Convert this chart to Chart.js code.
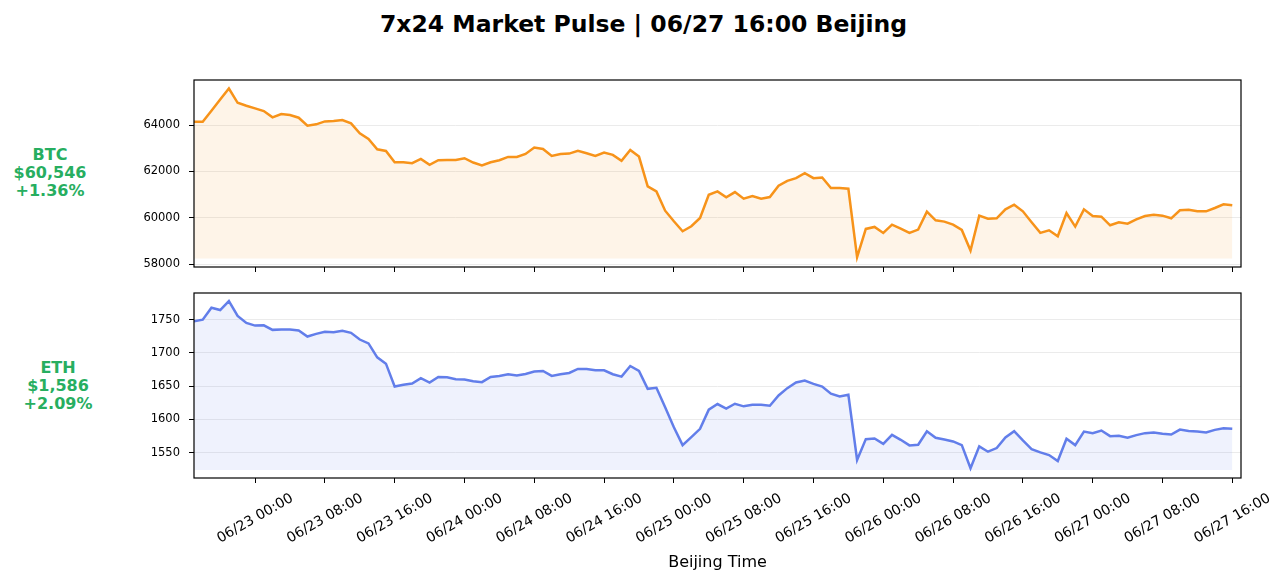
<!DOCTYPE html>
<html>
<head>
<meta charset="utf-8">
<title>7x24 Market Pulse</title>
<script src="https://cdn.jsdelivr.net/npm/chart.js@4.4.0/dist/chart.umd.min.js"></script>
<style>
  html, body { margin: 0; padding: 0; background: #fff; }
  body { width: 1287px; height: 583px; position: relative; overflow: hidden; font-family: 'DejaVu Sans', sans-serif; }
  #title { position: absolute; left: 0; top: 10px; width: 1287px; text-align: center; font-weight: bold; font-size: 23.5px; line-height: 28px; color: #000; }
  .coin { position: absolute; width: 120px; text-align: center; font-weight: bold; font-size: 16px; line-height: 17.8px; color: #27ae60; }
  canvas { position: absolute; left: 0; }
</style>
</head>
<body>
<div id="title">7x24 Market Pulse | 06/27 16:00 Beijing</div>
<div class="coin" id="btcInfo" style="left:-10px; top:146px"></div>
<div class="coin" id="ethInfo" style="left:-2px; top:359px"></div>
<canvas id="btcChart" width="1287" height="210" style="top:70px"></canvas>
<canvas id="ethChart" width="1287" height="300" style="top:283px"></canvas>
<script>
// hourly closes, 06/22 17:00 -> 06/27 16:00 (Beijing)
const btcPrices = [
  64143, 64143, 64614, 65100, 65572, 64957, 64829, 64715, 64600, 64329,
  64472, 64429, 64314, 63971, 64029, 64157, 64171, 64214, 64071, 63643,
  63400, 62957, 62886, 62400, 62400, 62357, 62543, 62286, 62486, 62500,
  62500, 62571, 62386, 62257, 62400, 62486, 62629, 62629, 62757, 63029,
  62971, 62671, 62757, 62771, 62886, 62786, 62671, 62814, 62714, 62457,
  62929, 62643, 61357, 61143, 60314, 59857, 59429, 59643, 60000, 61000,
  61143, 60886, 61114, 60829, 60943, 60829, 60900, 61386, 61600, 61714,
  61929, 61714, 61743, 61286, 61286, 61257, 58314, 59529, 59614, 59357,
  59714, 59543, 59357, 59500, 60271, 59900, 59843, 59714, 59486, 58600,
  60100, 59971, 59986, 60371, 60571, 60286, 59814, 59357, 59471, 59214,
  60214, 59629, 60371, 60086, 60057, 59686, 59814, 59757, 59943, 60086,
  60143, 60100, 59986, 60329, 60357, 60286, 60286, 60429, 60585, 60546
];
const ethPrices = [
  1747.5, 1750.0, 1767.9, 1764.4, 1777.9, 1755.5, 1745.0, 1741.0, 1741.5, 1734.6,
  1735.1, 1735.1, 1733.6, 1724.6, 1728.6, 1731.6, 1731.1, 1733.1, 1730.1, 1720.1,
  1714.2, 1693.3, 1683.8, 1649.5, 1652.0, 1654.0, 1661.9, 1655.5, 1663.9, 1663.4,
  1660.4, 1660.0, 1657.5, 1656.0, 1663.9, 1665.4, 1667.9, 1665.9, 1668.4, 1671.9,
  1672.9, 1665.4, 1667.9, 1669.9, 1675.9, 1675.9, 1673.9, 1673.9, 1667.9, 1664.4,
  1680.3, 1672.9, 1646.0, 1647.5, 1618.2, 1588.3, 1561.4, 1573.4, 1585.9, 1614.7,
  1623.1, 1616.2, 1623.6, 1619.7, 1622.1, 1622.1, 1620.6, 1636.1, 1647.0, 1655.5,
  1658.5, 1653.5, 1649.5, 1638.6, 1634.6, 1637.1, 1539.0, 1570.4, 1571.4, 1563.4,
  1576.9, 1569.4, 1561.0, 1562.0, 1582.3, 1572.4, 1569.9, 1566.9, 1561.4, 1526.6,
  1559.5, 1551.5, 1557.0, 1572.9, 1582.3, 1568.4, 1555.5, 1550.5, 1546.5, 1537.6,
  1570.9, 1561.4, 1581.8, 1579.4, 1583.3, 1574.9, 1575.4, 1572.4, 1576.4, 1579.4,
  1580.4, 1578.4, 1577.4, 1584.8, 1582.8, 1581.8, 1580.4, 1584.3, 1586.8, 1586.0
];

// x tick positions are hours after 06/22 17:00
const tickHours = [7, 15, 23, 31, 39, 47, 55, 63, 71, 79, 87, 95, 103, 111, 119];
const tickLabels = [
  '06/23 00:00', '06/23 08:00', '06/23 16:00', '06/24 00:00', '06/24 08:00',
  '06/24 16:00', '06/25 00:00', '06/25 08:00', '06/25 16:00', '06/26 00:00',
  '06/26 08:00', '06/26 16:00', '06/27 00:00', '06/27 08:00', '06/27 16:00'
];
const btcTicks = [58000, 60000, 62000, 64000];
const ethTicks = [1550, 1600, 1650, 1700, 1750];

const coinNames = ['BTC', 'ETH'];
const coinPrices = ['$60,546', '$1,586'];
const coinChanges = ['+1.36%', '+2.09%'];

Chart.defaults.font.family = "'DejaVu Sans', sans-serif";
Chart.defaults.color = '#000';

document.getElementById('btcInfo').innerHTML = [coinNames[0], coinPrices[0], coinChanges[0]].join('<br>');
document.getElementById('ethInfo').innerHTML = [coinNames[1], coinPrices[1], coinChanges[1]].join('<br>');

// black box round the plot area, like matplotlib spines
const framePlugin = {
  id: 'frame',
  afterDatasetsDraw(chart) {
    const a = chart.chartArea;
    const ctx = chart.ctx;
    ctx.save();
    ctx.strokeStyle = '#000';
    ctx.lineWidth = 1.2;
    ctx.strokeRect(a.left, a.top, a.right - a.left, a.bottom - a.top);
    ctx.restore();
  }
};

function makePanel(id, prices, base, yMin, yMax, yTicks, color, fill, showX) {
  const points = prices.map((v, i) => ({ x: i, y: v }));
  return new Chart(document.getElementById(id), {
    type: 'line',
    data: {
      datasets: [{
        data: points,
        borderColor: color,
        backgroundColor: fill,
        borderWidth: 2.5,
        pointRadius: 0,
        tension: 0,
        fill: { value: base }
      }]
    },
    options: {
      responsive: false,
      animation: false,
      layout: { padding: { top: 10, right: 46, left: 0, bottom: 0 } },
      plugins: { legend: { display: false }, tooltip: { enabled: false } },
      scales: {
        x: {
          type: 'linear',
          min: 0,
          max: 120,
          afterBuildTicks: s => { s.ticks = tickHours.map(v => ({ value: v })); },
          afterFit: s => { s.height = showX ? 105 : 13; s.paddingLeft = 0; s.paddingRight = 0; },
          border: { display: false },
          grid: { drawOnChartArea: false, drawTicks: true, tickLength: 5, tickColor: '#000', tickWidth: 1 },
          ticks: {
            display: showX,
            autoSkip: false,
            minRotation: 30,
            maxRotation: 30,
            labelOffset: 37,
            padding: 7,
            font: { size: 14 },
            callback: v => tickLabels[tickHours.indexOf(v)]
          },
          title: {
            display: showX,
            text: 'Beijing Time',
            font: { size: 16 },
            padding: { top: 0, bottom: 11 }
          }
        },
        y: {
          min: yMin,
          max: yMax,
          afterBuildTicks: s => { s.ticks = yTicks.map(v => ({ value: v })); },
          afterFit: s => { s.width = 194; s.paddingTop = 0; s.paddingBottom = 0; },
          border: { display: false },
          grid: { color: '#ebebeb', lineWidth: 1, drawTicks: true, tickLength: 5, tickColor: '#000' },
          ticks: { padding: 9, font: { size: 11.5 }, callback: v => String(v) }
        }
      }
    },
    plugins: [framePlugin]
  });
}

makePanel('btcChart', btcPrices, 58256, 57890, 65938, btcTicks, '#f7931a', 'rgba(247,147,26,0.1)', false);
makePanel('ethChart', ethPrices, 1524, 1512, 1790, ethTicks, '#627eea', 'rgba(98,126,234,0.1)', true);
</script>
</body>
</html>
